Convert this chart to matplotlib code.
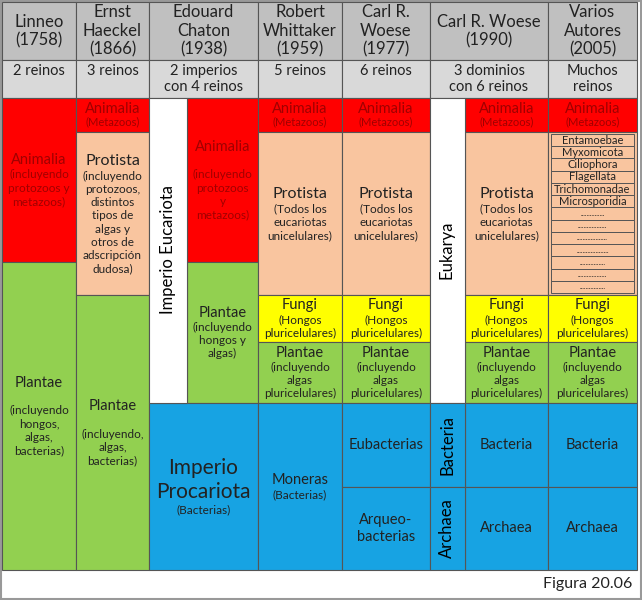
import matplotlib
matplotlib.use("Agg")
import matplotlib.pyplot as plt
from matplotlib.patches import Rectangle

FONT = "Lato"
headers = ["Linneo\n(1758)", "Ernst\nHaeckel\n(1866)", "Edouard\nChaton\n(1938)", "Robert\nWhittaker\n(1959)",
           "Carl R.\nWoese\n(1977)", "Carl R. Woese\n(1990)", "Varios\nAutores\n(2005)"]
subheaders = ["2 reinos", "3 reinos", "2 imperios\ncon 4 reinos", "5 reinos", "6 reinos",
              "3 dominios\ncon 6 reinos", "Muchos\nreinos"]
protist_list = ["Entamoebae", "Myxomicota", "Ciliophora", "Flagellata", "Trichomonadae", "Microsporidia",
                "...............", "..................", "...................", "....................",
                "................", "..................", "................"]

RED, PEACH, YEL, GRN, BLU = "#FF0000", "#F9C59F", "#FFFF00", "#92D050", "#17A3E3"
TXT_RED = "#A00000"
xe = [2, 76, 149, 258, 342, 430, 548, 637]
# cells: x0, x1, y0, y1, title, subtitle, color, title size, text color
cells = [
    (2, 76, 98, 262, "Animalia", "(incluyendo\nprotozoos y\nmetazoos)", RED, 10.5, TXT_RED),
    (2, 76, 262, 570, "Plantae", "\n(incluyendo\nhongos,\nalgas,\nbacterias)", GRN, 10.5, "#222"),
    (76, 149, 98, 132, "Animalia", "(Metazoos)", RED, 10.5, TXT_RED),
    (76, 149, 132, 295, "Protista", "(incluyendo\nprotozoos,\ndistintos\ntipos de\nalgas y\notros de\nadscripción\ndudosa)", PEACH, 11.5, "#222"),
    (76, 149, 295, 570, "Plantae", "\n(incluyendo,\nalgas,\nbacterias)", GRN, 10.5, "#222"),
    (187, 258, 98, 262, "Animalia", "\n(incluyendo\nprotozoos\ny\nmetazoos)", RED, 10.5, TXT_RED),
    (187, 258, 262, 403, "Plantae", "(incluyendo\nhongos y\nalgas)", GRN, 10.5, "#222"),
    (149, 258, 403, 570, "Imperio\nProcariota", "(Bacterias)", BLU, 15, "#222"),
]
for x0, x1 in [(258, 342), (342, 430), (465, 548), (548, 637)]:
    cells.append((x0, x1, 98, 132, "Animalia", "(Metazoos)", RED, 10.5, TXT_RED))
    if x0 != 548:
        cells.append((x0, x1, 132, 295, "Protista", "(Todos los\neucariotas\nunicelulares)", PEACH, 11.5, "#222"))
    else:
        cells.append((x0, x1, 132, 295, "", "", PEACH, 10, "#222"))
    cells.append((x0, x1, 295, 342, "Fungi", "(Hongos\npluricelulares)", YEL, 10.5, "#222"))
    cells.append((x0, x1, 342, 403, "Plantae", "(incluyendo\nalgas\npluricelulares)", GRN, 10.5, "#222"))
cells.append((258, 342, 403, 570, "Moneras", "(Bacterias)", BLU, 10.5, "#222"))
cells.append((342, 430, 403, 487, "Eubacterias", "", BLU, 10.5, "#222"))
cells.append((342, 430, 487, 570, "Arqueo-\nbacterias", "", BLU, 10.5, "#222"))
for x0, x1 in [(465, 548), (548, 637)]:
    cells.append((x0, x1, 403, 487, "Bacteria", "", BLU, 10.5, "#222"))
    cells.append((x0, x1, 487, 570, "Archaea", "", BLU, 10.5, "#222"))

fig = plt.figure(figsize=(6.42, 6.0), dpi=100)
ax = fig.add_axes([0, 0, 1, 1])
ax.set_xlim(0, 642); ax.set_ylim(600, 0); ax.axis("off")
ax.add_patch(Rectangle((0.5, 0.5), 640, 598, fc="white", ec="#999999", lw=1.5))

def rect(x0, y0, x1, y1, fc, ec="#555555", lw=0.8):
    ax.add_patch(Rectangle((x0, y0), x1 - x0, y1 - y0, fc=fc, ec=ec, lw=lw))

def block(cx, cy, lines):
    # lines: (text, fontsize, color); stack centred at cy
    hs = [fs * 1.39 * 1.12 for _, fs, _ in lines]
    y = cy - sum(hs) / 2
    for (t, fs, c), h in zip(lines, hs):
        ax.text(cx, y + h / 2, t, ha="center", va="center", fontsize=fs, family=FONT, color=c)
        y += h

for i in range(7):
    cx = (xe[i] + xe[i + 1]) / 2
    rect(xe[i], 2, xe[i + 1], 60, "#C0C0C0")
    block(cx, 31, [(l, 12, "#222") for l in headers[i].split("\n")])
    rect(xe[i], 60, xe[i + 1], 98, "#D9D9D9")
    ls = subheaders[i].split("\n")
    block(cx, 71 + 8 * (len(ls) - 1), [(l, 10.5, "#222") for l in ls])

for x0, x1, y0, y1, t, s, c, fs, tc in cells:
    rect(x0, y0, x1, y1, c)
    cx = (x0 + x1) / 2
    lines = [(l, fs, tc) for l in t.split("\n")] if t else []
    if s:
        lines += [(l if l else " ", 8.5 if y1 - y0 > 40 else 8, tc) for l in s.split("\n")]
    if y1 - y0 < 40 and s:
        lines = [(lines[0][0], fs, tc), (lines[1][0], 8, tc)]
        hs = [fs * 1.39 * 0.98, 8 * 1.39 * 1.0]
        y = (y0 + y1) / 2 - sum(hs) / 2
        for (tt, f, col), h in zip(lines, hs):
            ax.text(cx, y + h / 2, tt, ha="center", va="center", fontsize=f, family=FONT, color=col)
            y += h
    elif lines:
        block(cx, (y0 + y1) / 2, lines)

rect(149, 98, 187, 403, "white")
ax.text(168, 250, "Imperio Eucariota", rotation=90, ha="center", va="center", fontsize=12, family=FONT)
rect(430, 98, 465, 403, "white")
ax.text(447, 250, "Eukarya", rotation=90, ha="center", va="center", fontsize=12, family=FONT)
rect(430, 403, 465, 487, BLU)
ax.text(447, 445, "Bacteria", rotation=90, ha="center", va="center", fontsize=12, family=FONT)
rect(430, 487, 465, 570, BLU)
ax.text(447, 528, "Archaea", rotation=90, ha="center", va="center", fontsize=12, family=FONT)

h = (293 - 134) / len(protist_list)
for k, name in enumerate(protist_list):
    y0 = 134 + k * h
    rect(551, y0, 634, y0 + h, PEACH, lw=0.7)
    ax.text(592.5, y0 + h / 2, name, ha="center", va="center", fontsize=8 if "." not in name else 5,
            family=FONT, color="#222")

ax.text(632, 584, "Figura 20.06", ha="right", va="center", fontsize=11.5, family=FONT, color="#222")
fig.savefig("out.png", dpi=100)
